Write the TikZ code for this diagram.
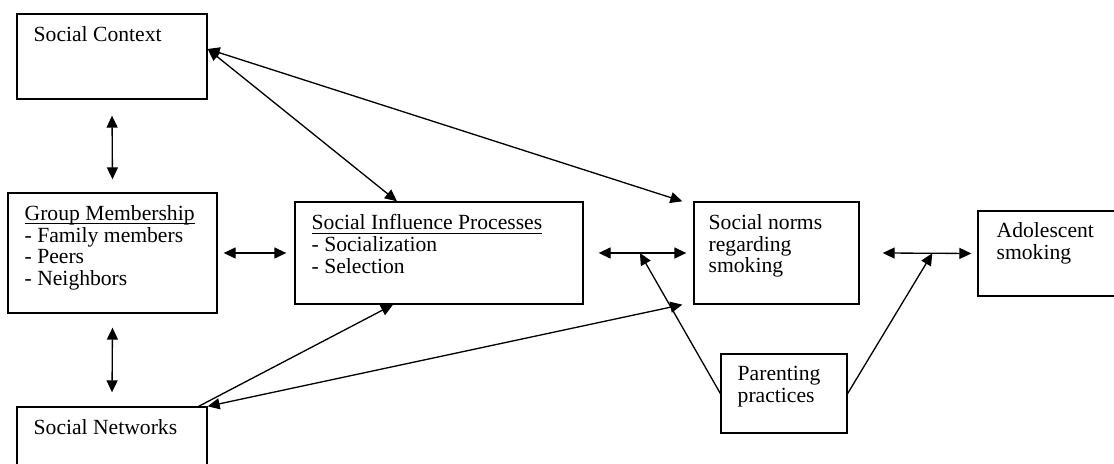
\documentclass[tikz,border=0pt]{standalone}
\usepackage{fontspec}
\setmainfont{Liberation Serif}
\usetikzlibrary{arrows.meta,calc}
\newcommand{\boxfont}{\fontsize{12.3}{12.3}\selectfont\lineskiplimit=-20pt\relax}
\newsavebox{\headbox}
\newcommand{\boxhead}[1]{\sbox{\headbox}{#1}\rlap{\rule[-2.1pt]{\wd\headbox}{0.5pt}}\usebox{\headbox}}

\begin{document}
\begin{tikzpicture}[
  box/.style={draw, line width=0.75pt, inner sep=0pt},
  txt/.style={anchor=north west, inner sep=0pt, align=left, font=\boxfont},
  dbl/.style={{Triangle[length=0.24cm,width=0.22cm]}-{Triangle[length=0.24cm,width=0.22cm]}, line width=0.75pt},
  one/.style={-{Triangle[length=0.24cm,width=0.22cm]}, line width=0.75pt}]
  \clip (0,0) rectangle (22.28,9.28);

  %% Boxes
  \node[box, minimum width=3.8cm, minimum height=1.7cm]   (ctx)   at (2.24,8.15) {};
  \node[box, minimum width=4.18cm, minimum height=2.4cm]  (grp)   at (2.25,4.22) {};
  \node[box, minimum width=3.8cm, minimum height=1.7cm]   (net)   at (2.24,0.29) {};
  \node[box, minimum width=5.76cm, minimum height=2.04cm] (sip)   at (8.78,4.22) {};
  \node[box, minimum width=3.3cm, minimum height=2.04cm]  (norms) at (15.53,4.22) {};
  \node[box, minimum width=3.04cm, minimum height=1.7cm]  (smk)   at (21.08,4.21) {};
  \node[box, minimum width=2.52cm, minimum height=1.58cm] (par)   at (15.68,1.41) {};

  %% Box texts
  \node[txt] (ctxtext)   at ([shift={(0.34,-0.26)}]ctx.north west)   {Social Context};
  \node[txt] (grptext)   at ([shift={(0.34,-0.26)}]grp.north west)   {\boxhead{Group Membership}\\- Family members\\- Peers\\- Neighbors};
  \node[txt] (nettext)   at ([shift={(0.34,-0.26)}]net.north west)   {Social Networks};
  \node[txt] (siptext)   at ([shift={(0.34,-0.26)}]sip.north west)   {\boxhead{Social Influence Processes}\\- Socialization\\- Selection};
  \node[txt] (normstext) at ([shift={(0.3,-0.26)}]norms.north west)  {Social norms\\regarding\\smoking};
  \node[txt] (smktext)   at ([shift={(0.38,-0.24)}]smk.north west)  {Adolescent\\smoking};
  \node[txt] (partext)   at ([shift={(0.34,-0.26)}]par.north west)  {Parenting\\practices};

  %% Junctions on the horizontal arrows
  \path ([xshift=0.3cm]sip.east) -- ([xshift=-0.14cm]norms.west) coordinate[pos=0.47] (j1);
  \path ([xshift=0.46cm]norms.east) -- ([xshift=-0.12cm]smk.west) coordinate[pos=0.56] (j2);

  %% Arrows
  \draw[dbl] ([yshift=-0.32cm]ctx.south) -- ([yshift=0.26cm]grp.north);
  \draw[dbl] ([yshift=-0.28cm]grp.south) -- ([yshift=0.28cm]net.north);
  \draw[dbl] ([xshift=0.12cm]grp.east) -- ([xshift=-0.16cm]sip.west);
  \draw[dbl] ([xshift=0.3cm]sip.east) -- ([xshift=-0.14cm]norms.west);
  \draw[dbl] ([xshift=0.46cm]norms.east) -- ([xshift=-0.12cm]smk.west);
  \draw[dbl] ([yshift=0.15cm]ctx.east) -- ([xshift=-0.84cm]sip.north);
  \draw[dbl] ([yshift=0.15cm]ctx.east) -- ([xshift=-0.22cm]norms.north west);
  \draw[one] ([xshift=-0.18cm]net.north east) -- ([xshift=-0.92cm]sip.south);
  \draw[dbl] ([xshift=-0.22cm]norms.south west) -- (net.north east);
  \draw[one] (par.west) -- (j1);
  \draw[one] (par.east) -- (j2);
\end{tikzpicture}
\end{document}
